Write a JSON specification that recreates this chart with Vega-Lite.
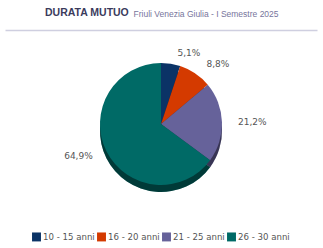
{
  "$schema": "https://vega.github.io/schema/vega-lite/v6.json",
  "width": 323,
  "height": 248,
  "autosize": {"type": "fit", "contains": "padding"},
  "padding": {"left": 5, "right": 5, "top": 7, "bottom": 6},
  "background": "white",
  "config": {
    "view": {"stroke": null},
    "legend": {"layout": {"anchor": "middle", "bottom": {"anchor": "middle"}}},
    "locale": {"number": {"decimal": ",", "thousands": ".", "grouping": [3], "currency": ["€", ""]}}
  },
  "title": {
    "text": "DURATA MUTUO",
    "anchor": "start",
    "dx": 40,
    "font": "Liberation Sans",
    "fontSize": 10.5,
    "fontWeight": "bold",
    "color": "#3b3b5c",
    "offset": -9
  },
  "data": {
    "values": [
      {"classe": "10 - 15 anni", "quota": 0.051},
      {"classe": "16 - 20 anni", "quota": 0.088},
      {"classe": "21 - 25 anni", "quota": 0.212},
      {"classe": "26 - 30 anni", "quota": 0.649}
    ]
  },
  "layer": [
    {
      "mark": {"type": "tick", "opacity": 0},
      "encoding": {
        "x": {
          "field": "quota",
          "type": "quantitative",
          "title": "Friuli Venezia Giulia - I Semestre 2025",
          "axis": {
            "orient": "top",
            "labels": false,
            "ticks": false,
            "grid": false,
            "domainColor": "#cfcfe0",
            "domainWidth": 1.5,
            "titleFont": "Liberation Sans",
            "titleFontSize": 8.5,
            "titleFontWeight": "normal",
            "titleColor": "#77759c",
            "titleAnchor": "start",
            "titleAlign": "left",
            "titleBaseline": "alphabetic",
            "titleX": 128,
            "titleY": -14
          }
        }
      }
    },
    {
      "mark": {"type": "arc", "outerRadius": 61, "y": {"expr": "height/2+5"}},
      "encoding": {
        "theta": {"field": "quota", "type": "quantitative", "stack": true},
        "order": {"field": "classe", "type": "ordinal"},
        "color": {"field": "classe", "type": "nominal"}
      }
    },
    {
      "mark": {"type": "arc", "outerRadius": 61, "y": {"expr": "height/2+5"}, "color": "black", "opacity": 0.45},
      "encoding": {
        "theta": {"field": "quota", "type": "quantitative", "stack": true},
        "order": {"field": "classe", "type": "ordinal"}
      }
    },
    {
      "mark": {"type": "arc", "outerRadius": 61, "y": {"expr": "height/2-2"}},
      "encoding": {
        "theta": {"field": "quota", "type": "quantitative", "stack": true},
        "order": {"field": "classe", "type": "ordinal"},
        "color": {
          "field": "classe",
          "type": "nominal",
          "scale": {"domain": ["10 - 15 anni", "16 - 20 anni", "21 - 25 anni", "26 - 30 anni"], "range": ["#0b3366", "#d43a00", "#66629a", "#006a66"]},
          "legend": {
            "orient": "bottom",
            "direction": "horizontal",
            "title": null,
            "symbolType": "square",
            "symbolSize": 80,
            "symbolStrokeWidth": 0,
            "labelFont": "DejaVu Sans",
            "labelFontSize": 8.6,
            "labelColor": "#555555",
            "columnPadding": 2,
            "labelOffset": 2,
            "offset": 10
          }
        }
      }
    },
    {
      "mark": {
        "type": "text",
        "radius": 72,
        "y": {"expr": "height/2-2"},
        "align": {"expr": "datum.classe == '26 - 30 anni' ? 'right' : 'left'"},
        "dx": {"expr": "datum.classe == '26 - 30 anni' ? -4 : 5"},
        "font": "DejaVu Sans",
        "fontSize": 9,
        "color": "#555555"
      },
      "encoding": {
        "theta": {"field": "quota", "type": "quantitative", "stack": true},
        "order": {"field": "classe", "type": "ordinal"},
        "text": {"field": "quota", "type": "quantitative", "format": ".1%"}
      }
    }
  ]
}
